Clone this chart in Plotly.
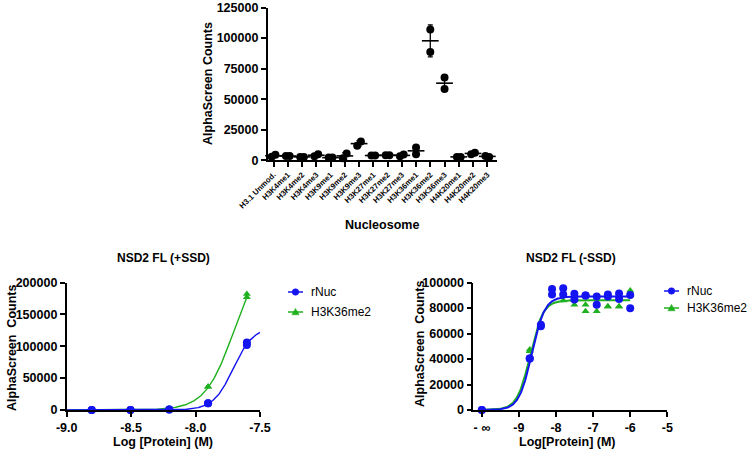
import numpy as np
import plotly.graph_objects as go

# ---------------- data ----------------
nucleosomes = ["H3.1 Unmod.", "H3K4me1", "H3K4me2", "H3K4me3", "H3K9me1", "H3K9me2",
               "H3K9me3", "H3K27me1", "H3K27me2", "H3K27me3", "H3K36me1", "H3K36me2",
               "H3K36me3", "H4K20me1", "H4K20me2", "H4K20me3"]
screen_rep1 = [3000, 3500, 2800, 3300, 2200, 1700, 12000, 3900, 4200, 3300, 5000, 107000, 67800, 2800, 5000, 3600]
screen_rep2 = [4500, 3500, 2800, 5000, 2200, 5500, 15300, 3900, 4200, 4700, 10500, 88500, 58400, 2800, 6200, 2800]
screen_yticks = [0, 25000, 50000, 75000, 100000, 125000]

# NSD2 FL (+SSD)
ssd_logc = [-8.806, -8.505, -8.204, -7.903, -7.602]
ssd_rnuc_rep1 = [0, 0, 700, 10500, 102000]
ssd_rnuc_rep2 = [0, 0, 700, 10500, 106000]
ssd_h3_rep1 = [0, 0, 2500, 36600, 176800]
ssd_h3_rep2 = [0, 0, 2500, 36600, 182000]
ssd_xticks = [-9.0, -8.5, -8.0, -7.5]
ssd_xticktext = ["-9.0", "-8.5", "-8.0", "-7.5"]
ssd_yticks = [0, 50000, 100000, 150000, 200000]
# fitted 4PL parameters (bottom, top, logEC50, hill, x-start, x-end)
ssd_rnuc_fit = (0, 130000, -7.7075, 5.6, -9.0, -7.5)
ssd_h3_fit = (0, 250000, -7.701, 3.89, -9.0, -7.602)

# NSD2 FL (-SSD)  (-10 plotted as "- ∞")
nossd_logc = [-10.0, -8.709, -8.408, -8.107, -7.806, -7.505, -7.204, -6.903, -6.602, -6.301, -6.0]
nossd_rnuc_rep1 = [0, 40400, 65600, 90600, 90600, 86700, 89800, 82500, 89000, 87000, 79800]
nossd_rnuc_rep2 = [0, 40400, 66900, 95000, 95400, 91100, 89800, 89000, 90600, 91400, 90200]
nossd_h3_rep1 = [0, 46000, 66000, 90600, 85900, 82500, 77500, 77500, 81200, 81200, 90200]
nossd_h3_rep2 = [0, 47400, 67500, 95000, 90600, 86500, 82500, 82500, 81200, 81200, 93700]
nossd_xticks = [-10, -9, -8, -7, -6, -5]
nossd_xticktext = ["- ∞", "-9", "-8", "-7", "-6", "-5"]
nossd_yticks = [0, 20000, 40000, 60000, 80000, 100000]
nossd_rnuc_fit = (0, 89000, -8.65, 2.5, -10.0, -6.0)
nossd_h3_fit = (0, 86000, -8.70, 2.5, -10.0, -6.0)

series_names = ["rNuc", "H3K36me2"]

# ---------------- style ----------------
FONT = "Arial, Liberation Sans, sans-serif"
BLUE = "#1414f0"
GREEN = "#1fb01f"
W, H = 750, 452


def px(x):
    return x / W


def py(y):
    return 1 - y / H


def four_pl(params, n=300):
    bottom, top, logec, hill, x0, x1 = params
    xs = np.linspace(x0, x1, n)
    ys = bottom + (top - bottom) / (1 + 10 ** ((logec - xs) * hill))
    return xs, ys


fig = go.Figure()

# ---------- top: screening scatter ----------
r1 = np.array(screen_rep1, float)
r2 = np.array(screen_rep2, float)
idx = np.arange(len(nucleosomes), dtype=float)
jit = np.where(np.abs(r1 - r2) < 5000, 0.13, 0.0)
fig.add_trace(go.Scatter(
    x=np.concatenate([idx - jit, idx + jit]), y=np.concatenate([r1, r2]),
    mode="markers", marker=dict(color="black", size=8, symbol="circle"),
    xaxis="x", yaxis="y", showlegend=False, cliponaxis=False))
means = (r1 + r2) / 2
sds = np.std(np.vstack([r1, r2]), axis=0, ddof=1)
fig.add_trace(go.Scatter(
    x=idx, y=means, mode="markers",
    marker=dict(symbol="line-ew", size=12, line=dict(color="black", width=1.6), color="black"),
    error_y=dict(type="data", array=sds, visible=True, color="black", thickness=1.3, width=2.5),
    xaxis="x", yaxis="y", showlegend=False, cliponaxis=False))

# ---------- bottom-left ----------
for fit, c, sym, reps in [
        (ssd_h3_fit, GREEN, "triangle-up", (ssd_h3_rep1, ssd_h3_rep2)),
        (ssd_rnuc_fit, BLUE, "circle", (ssd_rnuc_rep1, ssd_rnuc_rep2))]:
    xs, ys = four_pl(fit)
    fig.add_trace(go.Scatter(x=xs, y=ys, mode="lines", line=dict(color=c, width=1.4),
                             xaxis="x2", yaxis="y2", showlegend=False, cliponaxis=False))
    fig.add_trace(go.Scatter(x=ssd_logc + ssd_logc, y=list(reps[0]) + list(reps[1]),
                             mode="markers", marker=dict(color=c, size=8 if sym == "circle" else 7, symbol=sym),
                             xaxis="x2", yaxis="y2", showlegend=False, cliponaxis=False))

# ---------- bottom-right ----------
for fit, c, sym, reps in [
        (nossd_h3_fit, GREEN, "triangle-up", (nossd_h3_rep1, nossd_h3_rep2)),
        (nossd_rnuc_fit, BLUE, "circle", (nossd_rnuc_rep1, nossd_rnuc_rep2))]:
    xs, ys = four_pl(fit)
    fig.add_trace(go.Scatter(x=xs, y=ys, mode="lines", line=dict(color=c, width=2),
                             xaxis="x3", yaxis="y3", showlegend=False, cliponaxis=False))
    fig.add_trace(go.Scatter(x=nossd_logc + nossd_logc, y=list(reps[0]) + list(reps[1]),
                             mode="markers", marker=dict(color=c, size=8 if sym == "circle" else 7, symbol=sym),
                             xaxis="x3", yaxis="y3", showlegend=False, cliponaxis=False))

axis_common = dict(showline=True, linecolor="black", linewidth=1.6, ticks="outside",
                   ticklen=5, tickwidth=1.5, tickcolor="black", showgrid=False, zeroline=False,
                   automargin=False,
                   tickfont=dict(family=FONT, size=12.5, color="black", weight="bold"))
top_x_common = {k: v for k, v in axis_common.items() if k != "tickfont"}

fig.update_layout(
    width=W, height=H, margin=dict(l=0, r=0, t=0, b=0, pad=0, autoexpand=False),
    paper_bgcolor="white", plot_bgcolor="white", showlegend=False,
    font=dict(family=FONT, color="black"),
    xaxis=dict(domain=[px(267.7), px(496.7)], range=[-0.41, 15.66], anchor="y",
               tickmode="array", tickvals=list(range(len(nucleosomes))), ticktext=nucleosomes,
               tickangle=-45, **top_x_common,
               tickfont=dict(family=FONT, size=7.8, color="black", weight="bold")),
    yaxis=dict(domain=[py(160.3), py(7.5)], range=[0, 125000], anchor="x",
               tickmode="array", tickvals=screen_yticks, ticktext=[str(v) for v in screen_yticks],
               **axis_common),
    xaxis2=dict(domain=[px(66.7), px(260)], range=[-9.0, -7.5], anchor="y2",
                tickmode="array", tickvals=ssd_xticks, ticktext=ssd_xticktext, **axis_common),
    yaxis2=dict(domain=[py(410), py(282.5)], range=[0, 200000], anchor="x2",
                tickmode="array", tickvals=ssd_yticks, ticktext=[str(v) for v in ssd_yticks],
                **axis_common),
    xaxis3=dict(domain=[px(473.3), px(667.3)], range=[-10.23, -5], anchor="y3",
                tickmode="array", tickvals=nossd_xticks, ticktext=nossd_xticktext, **axis_common),
    yaxis3=dict(domain=[py(410), py(282.5)], range=[0, 100000], anchor="x3",
                tickmode="array", tickvals=nossd_yticks, ticktext=[str(v) for v in nossd_yticks],
                **axis_common),
)

# ---------- manual legends (line + marker glyph + text) ----------
legend_specs = [
    # (line x-start px, first row y px, row gap px)
    (288, 292, 20),
    (664, 291, 17),
]
for lx, ly, gap in legend_specs:
    for i, (nm, c, sym) in enumerate(zip(series_names, [BLUE, GREEN], ["circle", "triangle"])):
        yy = ly + i * gap
        fig.add_shape(type="line", xref="paper", yref="paper",
                      x0=px(lx), x1=px(lx + 15), y0=py(yy), y1=py(yy),
                      line=dict(color=c, width=1.5))
        cx = lx + 7.5
        if sym == "circle":
            fig.add_shape(type="circle", xref="paper", yref="paper",
                          x0=px(cx - 3.3), x1=px(cx + 3.3), y0=py(yy + 3.3), y1=py(yy - 3.3),
                          fillcolor=c, line=dict(color=c, width=0.5))
        else:
            path = "M {:.5f} {:.5f} L {:.5f} {:.5f} L {:.5f} {:.5f} Z".format(
                px(cx - 3.6), py(yy + 2.8), px(cx + 3.6), py(yy + 2.8), px(cx), py(yy - 3.6))
            fig.add_shape(type="path", xref="paper", yref="paper", path=path,
                          fillcolor=c, line=dict(color=c, width=0.5))
        fig.add_annotation(text=nm, x=px(lx + 21), y=py(yy), xref="paper", yref="paper",
                           xanchor="left", yanchor="middle", showarrow=False,
                           font=dict(family=FONT, size=12, color="black"))

ann = dict(showarrow=False, xref="paper", yref="paper", xanchor="center", yanchor="middle",
           font=dict(family=FONT, size=12.5, color="black", weight="bold"))
title_font = dict(family=FONT, size=12, color="black", weight="bold")
fig.add_annotation(text="AlphaScreen Counts", x=px(208), y=py(84), textangle=-90, **ann)
fig.add_annotation(text="Nucleosome", x=px(382), y=py(225), **ann)
fig.add_annotation(text="NSD2 FL (+SSD)", x=px(163), y=py(258), **{**ann, "font": title_font})
fig.add_annotation(text="NSD2 FL (-SSD)", x=px(571), y=py(258), **{**ann, "font": title_font})
fig.add_annotation(text="Log [Protein] (M)", x=px(163), y=py(442), **ann)
fig.add_annotation(text="Log[Protein] (M)", x=px(567), y=py(442), **ann)
fig.add_annotation(text="AlphaScreen  Counts", x=px(12), y=py(348), textangle=-90, **ann)
fig.add_annotation(text="AlphaScreen  Counts", x=px(420), y=py(344), textangle=-90, **ann)

fig.write_html("out.html", config={"displayModeBar": False},
               post_script="document.body.style.margin='0px';document.body.style.padding='0px';")
